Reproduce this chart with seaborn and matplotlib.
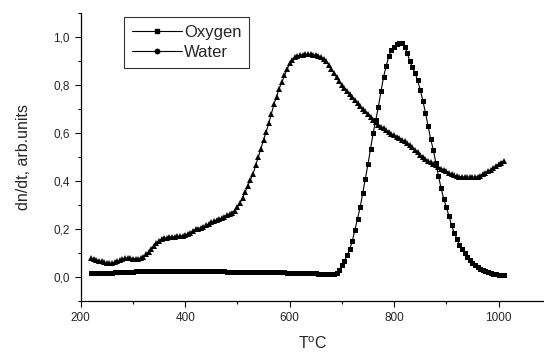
import numpy as np
import pandas as pd
import matplotlib
matplotlib.use("Agg")
import matplotlib.pyplot as plt
from matplotlib.ticker import MultipleLocator, FuncFormatter
from matplotlib.lines import Line2D
import seaborn as sns

temperature = [
    220, 225, 230, 235, 240, 245, 250, 255, 260, 265,
    270, 275, 280, 285, 290, 295, 300, 305, 310, 315,
    320, 325, 330, 335, 340, 345, 350, 355, 360, 365,
    370, 375, 380, 385, 390, 395, 400, 405, 410, 415,
    420, 425, 430, 435, 440, 445, 450, 455, 460, 465,
    470, 475, 480, 485, 490, 495, 500, 505, 510, 515,
    520, 525, 530, 535, 540, 545, 550, 555, 560, 565,
    570, 575, 580, 585, 590, 595, 600, 605, 610, 615,
    620, 625, 630, 635, 640, 645, 650, 655, 660, 665,
    670, 675, 680, 685, 690, 695, 700, 705, 710, 715,
    720, 725, 730, 735, 740, 745, 750, 755, 760, 765,
    770, 775, 780, 785, 790, 795, 800, 805, 810, 815,
    820, 825, 830, 835, 840, 845, 850, 855, 860, 865,
    870, 875, 880, 885, 890, 895, 900, 905, 910, 915,
    920, 925, 930, 935, 940, 945, 950, 955, 960, 965,
    970, 975, 980, 985, 990, 995, 1000, 1005, 1010]

oxygen = [
    0.015, 0.015, 0.016, 0.016, 0.017, 0.017, 0.018, 0.018, 0.018, 0.019,
    0.019, 0.020, 0.020, 0.021, 0.021, 0.022, 0.022, 0.023, 0.023, 0.024,
    0.024, 0.025, 0.025, 0.026, 0.026, 0.026, 0.026, 0.026, 0.026, 0.026,
    0.026, 0.026, 0.026, 0.026, 0.026, 0.026, 0.026, 0.025, 0.025, 0.025,
    0.025, 0.025, 0.025, 0.025, 0.025, 0.025, 0.025, 0.025, 0.025, 0.024,
    0.023, 0.023, 0.022, 0.021, 0.021, 0.020, 0.020, 0.020, 0.020, 0.020,
    0.020, 0.020, 0.020, 0.020, 0.020, 0.020, 0.020, 0.020, 0.020, 0.020,
    0.020, 0.019, 0.019, 0.019, 0.019, 0.018, 0.018, 0.018, 0.018, 0.018,
    0.018, 0.017, 0.017, 0.016, 0.016, 0.015, 0.015, 0.014, 0.014, 0.013,
    0.013, 0.012, 0.011, 0.011, 0.018, 0.030, 0.048, 0.068, 0.090, 0.115,
    0.150, 0.196, 0.240, 0.290, 0.350, 0.410, 0.470, 0.535, 0.600, 0.655,
    0.710, 0.775, 0.835, 0.880, 0.920, 0.945, 0.960, 0.970, 0.975, 0.973,
    0.960, 0.935, 0.900, 0.875, 0.850, 0.820, 0.780, 0.735, 0.685, 0.630,
    0.575, 0.530, 0.475, 0.420, 0.370, 0.325, 0.290, 0.255, 0.215, 0.185,
    0.160, 0.135, 0.115, 0.098, 0.083, 0.070, 0.058, 0.048, 0.040, 0.034,
    0.029, 0.024, 0.020, 0.016, 0.013, 0.011, 0.009, 0.008, 0.007]

water = [
    0.078, 0.075, 0.072, 0.068, 0.065, 0.062, 0.060, 0.058, 0.058, 0.061,
    0.065, 0.070, 0.075, 0.078, 0.079, 0.078, 0.077, 0.076, 0.076, 0.079,
    0.085, 0.095, 0.105, 0.118, 0.130, 0.142, 0.152, 0.158, 0.162, 0.164,
    0.166, 0.167, 0.168, 0.169, 0.170, 0.172, 0.175, 0.180, 0.185, 0.192,
    0.198, 0.202, 0.205, 0.210, 0.215, 0.221, 0.228, 0.233, 0.238, 0.241,
    0.245, 0.251, 0.258, 0.263, 0.268, 0.277, 0.290, 0.308, 0.330, 0.355,
    0.380, 0.405, 0.430, 0.465, 0.500, 0.535, 0.570, 0.605, 0.640, 0.680,
    0.720, 0.752, 0.785, 0.812, 0.840, 0.865, 0.890, 0.903, 0.915, 0.920,
    0.925, 0.927, 0.928, 0.928, 0.928, 0.927, 0.925, 0.922, 0.918, 0.910,
    0.898, 0.885, 0.868, 0.850, 0.832, 0.815, 0.800, 0.787, 0.775, 0.762,
    0.750, 0.738, 0.725, 0.712, 0.700, 0.690, 0.680, 0.668, 0.655, 0.645,
    0.635, 0.627, 0.620, 0.612, 0.605, 0.597, 0.590, 0.585, 0.580, 0.572,
    0.565, 0.558, 0.550, 0.540, 0.530, 0.520, 0.510, 0.500, 0.490, 0.484,
    0.478, 0.471, 0.465, 0.458, 0.452, 0.446, 0.440, 0.434, 0.428, 0.424,
    0.420, 0.418, 0.417, 0.416, 0.415, 0.415, 0.415, 0.416, 0.418, 0.422,
    0.428, 0.434, 0.440, 0.447, 0.455, 0.462, 0.470, 0.477, 0.485]

series_names = ["Oxygen", "Water"]
x_label = "T$^\\mathregular{o}$C"
y_label = "dn/dt, arb.units"

assert len(temperature) == len(oxygen) == len(water), (len(temperature), len(oxygen), len(water))

df = pd.DataFrame({"T": temperature, "Oxygen": oxygen, "Water": water})

sns.set_style("ticks")
plt.rcParams["font.family"] = ["Liberation Sans", "DejaVu Sans"]

fig = plt.figure(figsize=(5.44, 3.54), dpi=100)
ax = fig.add_axes([80.7 / 544, 1 - 301 / 354, 1 - 80.7 / 544, (301 - 13) / 354])

sns.lineplot(data=df, x="T", y="Oxygen", ax=ax, color="black", linewidth=0.8,
             marker="s", markersize=3.6, markeredgewidth=0, estimator=None)
sns.lineplot(data=df, x="T", y="Water", ax=ax, color="black", linewidth=0.8,
             marker="^", markersize=4.4, markeredgewidth=0, estimator=None)

ax.set_xlim(200, 1087)
ax.set_ylim(-0.1, 1.1)
ax.xaxis.set_major_locator(MultipleLocator(200))
ax.xaxis.set_minor_locator(MultipleLocator(100))
ax.yaxis.set_major_locator(MultipleLocator(0.2))
ax.yaxis.set_minor_locator(MultipleLocator(0.1))
ax.yaxis.set_major_formatter(FuncFormatter(lambda v, p: f"{v:.1f}".replace(".", ",").replace("-0,0", "0,0")))

ax.tick_params(which="major", direction="out", length=4.5, width=0.8, labelsize=8.5, color="black")
ax.tick_params(which="minor", direction="out", length=2.5, width=0.8, color="black")
for s in ["left", "bottom"]:
    ax.spines[s].set_linewidth(0.9)
    ax.spines[s].set_color("black")
sns.despine(ax=ax)

ax.set_xlabel(x_label, fontsize=11.5, labelpad=8)
ax.set_ylabel(y_label, fontsize=11.5, labelpad=16)

handles = [Line2D([], [], color="black", linewidth=0.8, marker="s", markersize=3.2),
           Line2D([], [], color="black", linewidth=0.8, marker="o", markersize=3.2)]
leg = ax.legend(handles, series_names, loc="upper left",
                bbox_to_anchor=(124 / 544, 1 - 17 / 354), bbox_transform=fig.transFigure,
                fontsize=12, frameon=True, fancybox=False, handlelength=3.0,
                handletextpad=0.15, borderpad=0.45, labelspacing=0.35, borderaxespad=0)
leg.get_frame().set_edgecolor("black")
leg.get_frame().set_linewidth(0.8)

fig.savefig("out.png", dpi=100)
